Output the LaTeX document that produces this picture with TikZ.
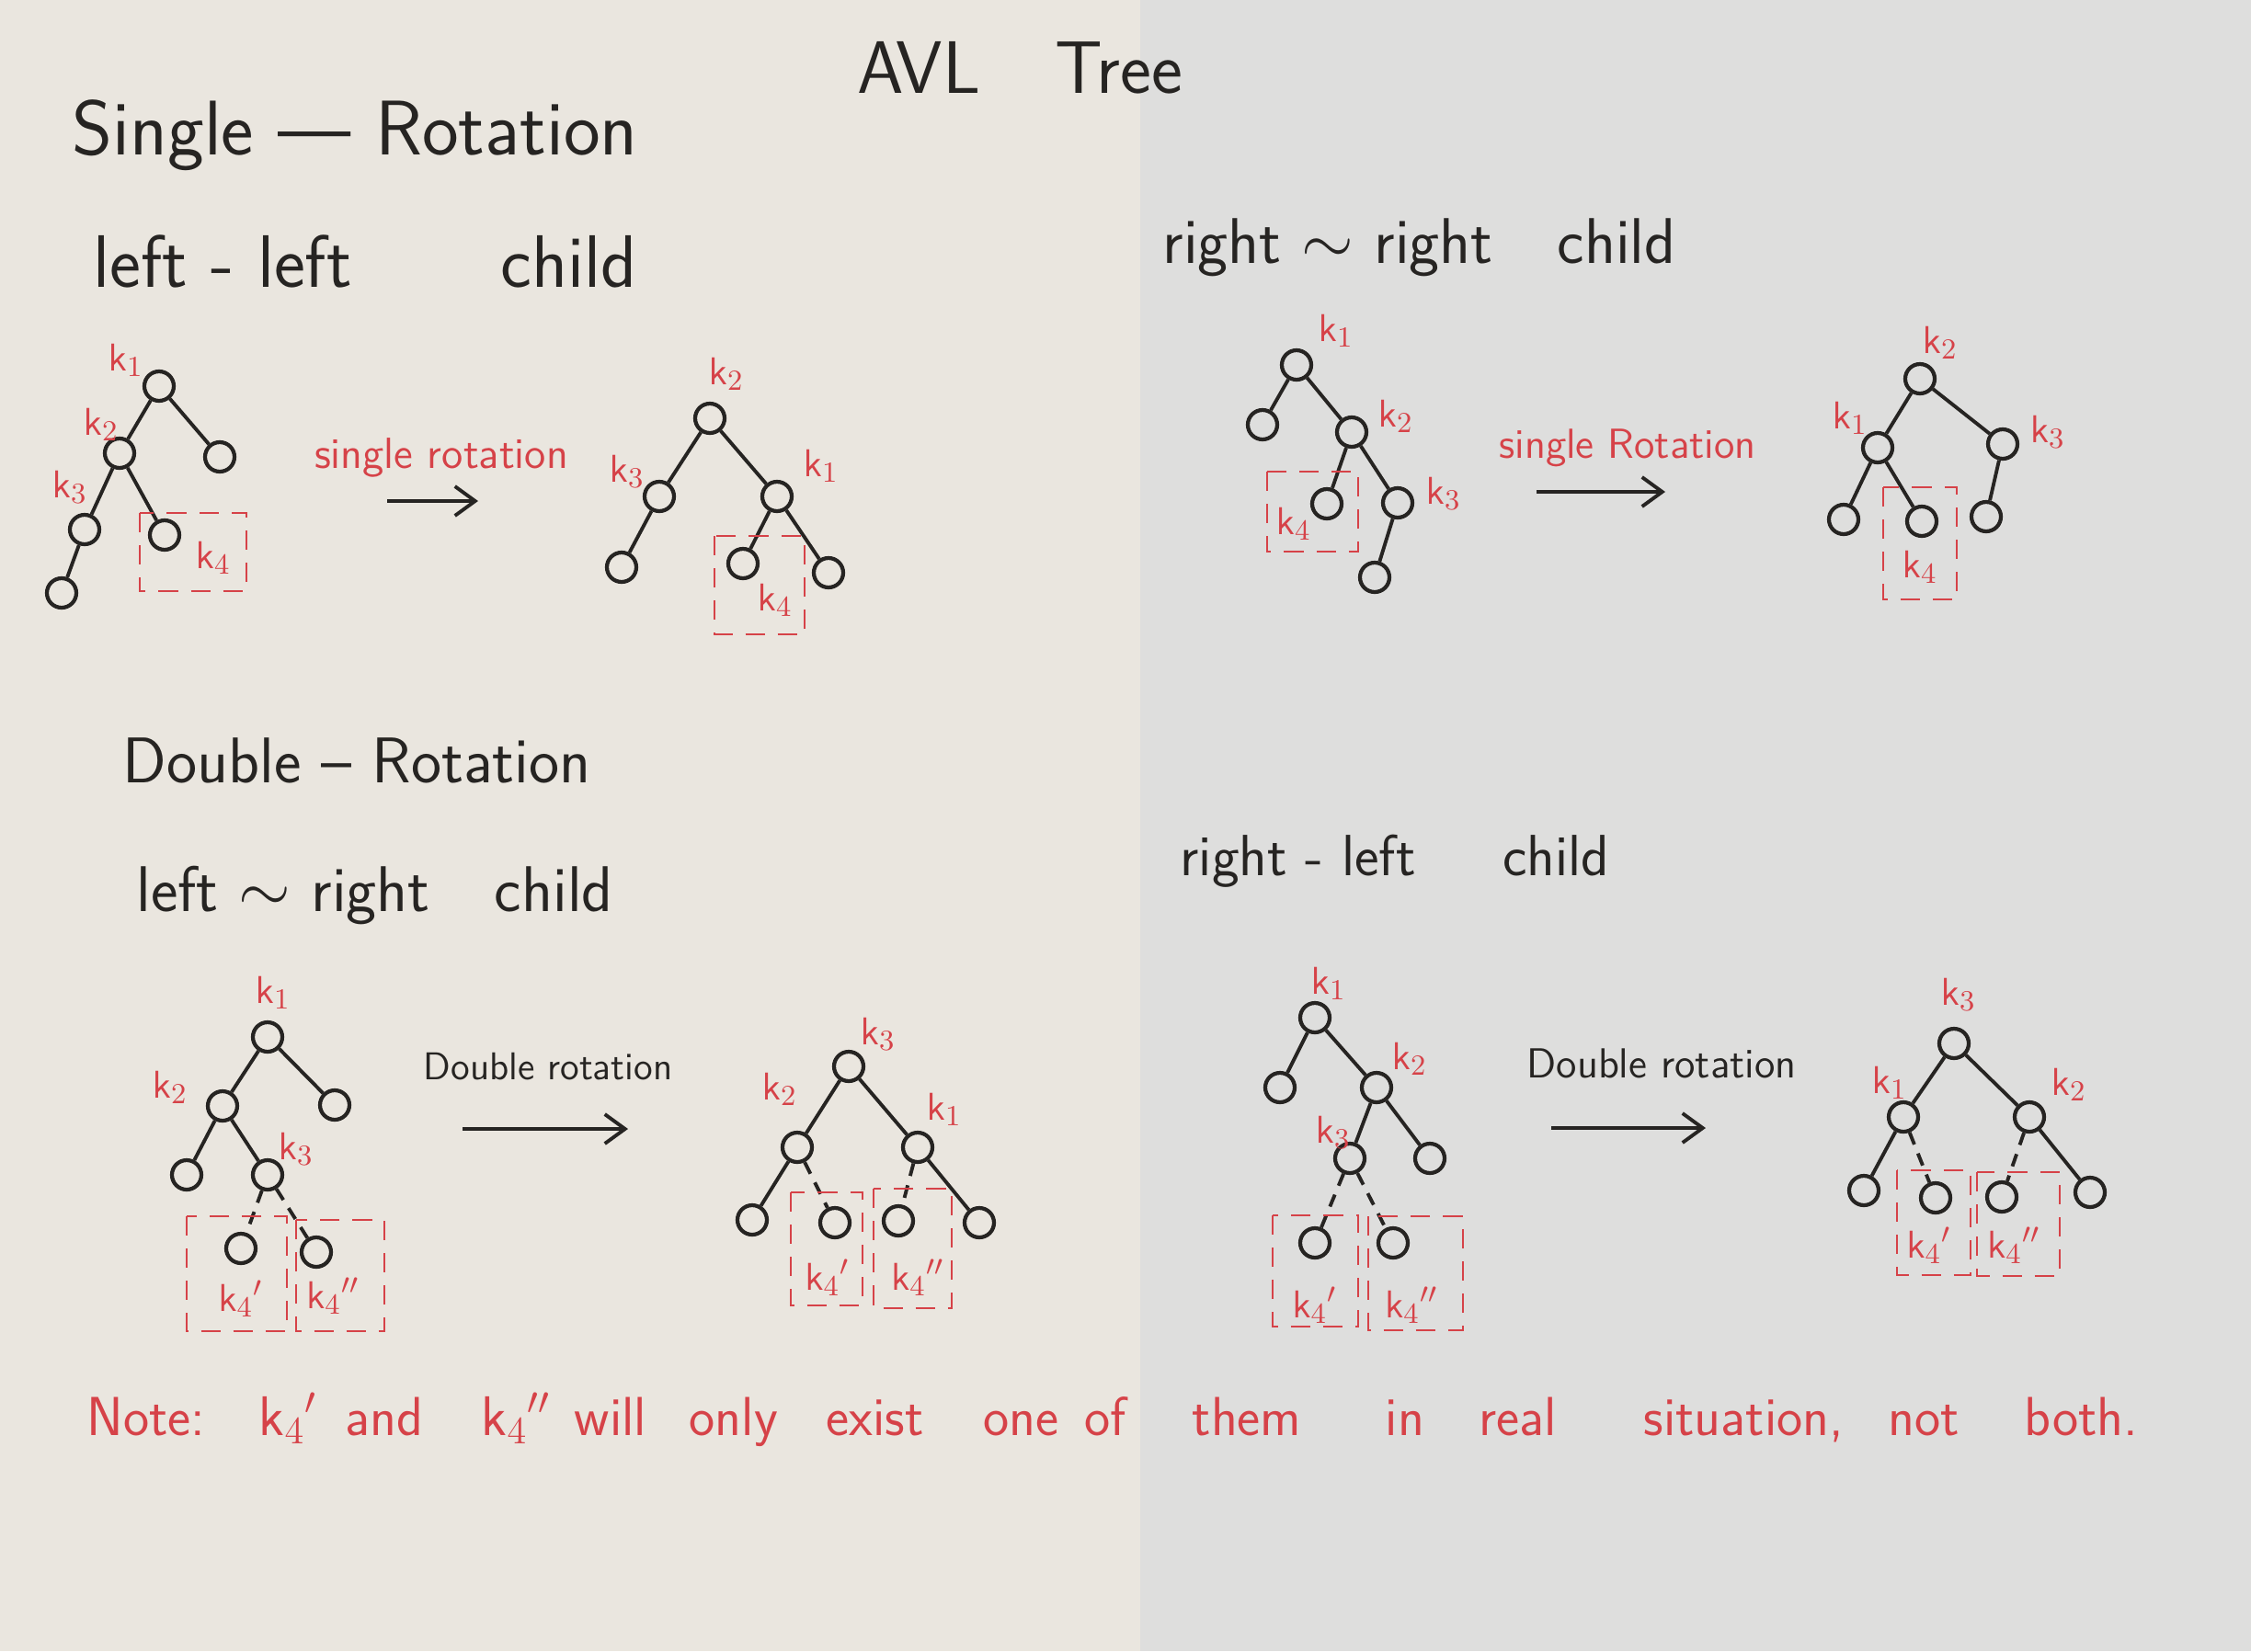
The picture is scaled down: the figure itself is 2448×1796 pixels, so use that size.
\documentclass[tikz,border=0pt]{standalone}
\usepackage{tikz}
\usetikzlibrary{arrows.meta}
\definecolor{penred}{RGB}{214,66,72}
\definecolor{pen}{RGB}{38,36,34}
\definecolor{paperL}{RGB}{234,230,223}
\definecolor{paperR}{RGB}{222,222,221}
\newcommand{\knum}[1]{$\mathsf{k}_{#1}$}

\begin{document}
\begin{tikzpicture}[x=0.1mm, y=-0.1mm,
  nd/.style={circle, draw=pen, line width=1.2pt, minimum size=3.2mm, inner sep=0pt},
  edge/.style={draw=pen, line width=1.1pt},
  dedge/.style={edge, dash pattern=on 4pt off 3pt},
  kbox/.style={draw=penred, line width=0.8pt, dash pattern=on 6pt off 4pt},
  klab/.style={text=penred, font=\sffamily\fontsize{13}{15}\selectfont, inner sep=0pt},
  title/.style={text=pen, anchor=base west, inner sep=0pt},
  rotlab/.style={inner sep=0pt},
  rotarrow/.style={draw=pen, line width=1.1pt, -{Straight Barb[length=2.2mm, width=3.2mm]}}]
% paper
\useasboundingbox (0,0) rectangle (2448,1796);
\fill[paperL] (0,0) rectangle (1240,1796);
\fill[paperR] (1240,0) rectangle (2448,1796);
% headings
\node[title, font=\sffamily\fontsize{23}{27}\selectfont] (avl) at (932,101) {AVL\quad Tree};
\node[title, font=\sffamily\fontsize{24}{28}\selectfont] (single) at (78,168) {Single --- Rotation};
\node[title, font=\sffamily\fontsize{23}{27}\selectfont] (llhead) at (101,312) {left - left\qquad child};
\node[title, font=\sffamily\fontsize{20}{24}\selectfont] (rrhead) at (1264,286) {right $\sim$ right\quad child};
\node[title, font=\sffamily\fontsize{20}{24}\selectfont] (double) at (133,851) {Double -- Rotation};
\node[title, font=\sffamily\fontsize{20}{24}\selectfont] (lrhead) at (148,991) {left $\sim$ right\quad child};
\node[title, font=\sffamily\fontsize{18}{22}\selectfont] (rlhead) at (1283,952) {right - left\quad\enspace child};

% left-left, before
\node[nd] (llA-k1) at (173,420) {};
\node[nd] (llA-k2) at (130,493) {};
\node[nd] (llA-x1) at (239,497) {};
\node[nd] (llA-k3) at (92,576) {};
\node[nd] (llA-x2) at (179,582) {};
\node[nd] (llA-x3) at (67,645) {};
\draw[edge] (llA-k1) -- (llA-k2);
\draw[edge] (llA-k1) -- (llA-x1);
\draw[edge] (llA-k2) -- (llA-k3);
\draw[edge] (llA-k2) -- (llA-x2);
\draw[edge] (llA-k3) -- (llA-x3);
\node[klab] (llA-t1) at (137,392) {\knum{1}};
\node[klab] (llA-t2) at (110,462) {\knum{2}};
\node[klab] (llA-t3) at (76,530) {\knum{3}};
\draw[kbox] (152,558) rectangle (268,643);
\node[klab] (llA-t4) at (232,607) {\knum{4}};
% left-left, rotation
\node[rotlab, text=penred, font=\sffamily\fontsize{13.5}{16}\selectfont] (llrot) at (480,498) {single rotation};
\coordinate (llArrS) at (421,545);
\coordinate (llArrE) at (520,545);
\draw[rotarrow] (llArrS) -- (llArrE);
% left-left, after
\node[nd] (llB-k2) at (772,455) {};
\node[nd] (llB-k3) at (717,540) {};
\node[nd] (llB-k1) at (845,540) {};
\node[nd] (llB-x1) at (676,617) {};
\node[nd] (llB-x2) at (808,613) {};
\node[nd] (llB-x3) at (901,623) {};
\draw[edge] (llB-k2) -- (llB-k3);
\draw[edge] (llB-k2) -- (llB-k1);
\draw[edge] (llB-k3) -- (llB-x1);
\draw[edge] (llB-k1) -- (llB-x2);
\draw[edge] (llB-k1) -- (llB-x3);
\node[klab] (llB-t2) at (790,407) {\knum{2}};
\node[klab] (llB-t3) at (682,513) {\knum{3}};
\node[klab] (llB-t1) at (893,507) {\knum{1}};
\draw[kbox] (777,583) rectangle (875,690);
\node[klab] (llB-t4) at (843,653) {\knum{4}};

% right-right, before
\node[nd] (rrA-k1) at (1410,397) {};
\node[nd] (rrA-x1) at (1373,462) {};
\node[nd] (rrA-k2) at (1470,470) {};
\node[nd] (rrA-x2) at (1443,548) {};
\node[nd] (rrA-k3) at (1520,547) {};
\node[nd] (rrA-x3) at (1495,628) {};
\draw[edge] (rrA-k1) -- (rrA-x1);
\draw[edge] (rrA-k1) -- (rrA-k2);
\draw[edge] (rrA-k2) -- (rrA-x2);
\draw[edge] (rrA-k2) -- (rrA-k3);
\draw[edge] (rrA-k3) -- (rrA-x3);
\node[klab] (rrA-t1) at (1453,360) {\knum{1}};
\node[klab] (rrA-t2) at (1518,453) {\knum{2}};
\node[klab] (rrA-t3) at (1570,537) {\knum{3}};
\draw[kbox] (1378,513) rectangle (1477,600);
\node[klab] (rrA-t4) at (1407,570) {\knum{4}};
% right-right, rotation
\node[rotlab, text=penred, font=\sffamily\fontsize{13}{16}\selectfont] (rrrot) at (1770,487) {single Rotation};
\coordinate (rrArrS) at (1671,535);
\coordinate (rrArrE) at (1811,535);
\draw[rotarrow] (rrArrS) -- (rrArrE);
% right-right, after
\node[nd] (rrB-k2) at (2088,412) {};
\node[nd] (rrB-k1) at (2042,487) {};
\node[nd] (rrB-k3) at (2178,483) {};
\node[nd] (rrB-x1) at (2005,565) {};
\node[nd] (rrB-x2) at (2090,567) {};
\node[nd] (rrB-x3) at (2160,562) {};
\draw[edge] (rrB-k2) -- (rrB-k1);
\draw[edge] (rrB-k2) -- (rrB-k3);
\draw[edge] (rrB-k1) -- (rrB-x1);
\draw[edge] (rrB-k1) -- (rrB-x2);
\draw[edge] (rrB-k3) -- (rrB-x3);
\node[klab] (rrB-t2) at (2110,373) {\knum{2}};
\node[klab] (rrB-t1) at (2012,455) {\knum{1}};
\node[klab] (rrB-t3) at (2227,470) {\knum{3}};
\draw[kbox] (2048,530) rectangle (2128,652);
\node[klab] (rrB-t4) at (2088,617) {\knum{4}};

% left-right, before
\node[nd] (lrA-k1) at (291,1128) {};
\node[nd] (lrA-k2) at (242,1203) {};
\node[nd] (lrA-x1) at (364,1202) {};
\node[nd] (lrA-x2) at (203,1278) {};
\node[nd] (lrA-k3) at (291,1278) {};
\node[nd] (lrA-x3) at (262,1358) {};
\node[nd] (lrA-x4) at (344,1362) {};
\draw[edge] (lrA-k1) -- (lrA-k2);
\draw[edge] (lrA-k1) -- (lrA-x1);
\draw[edge] (lrA-k2) -- (lrA-x2);
\draw[edge] (lrA-k2) -- (lrA-k3);
\draw[dedge] (lrA-k3) -- (lrA-x3);
\draw[dedge] (lrA-k3) -- (lrA-x4);
\node[klab] (lrA-t1) at (297,1080) {\knum{1}};
\node[klab] (lrA-t2) at (185,1183) {\knum{2}};
\node[klab] (lrA-t3) at (322,1250) {\knum{3}};
\draw[kbox] (203,1323) rectangle (312,1448);
\draw[kbox] (322,1327) rectangle (418,1448);
\node[klab] (lrA-t4) at (262,1413) {\knum{4}$'$};
\node[klab] (lrA-t5) at (362,1410) {\knum{4}$''$};
% left-right, rotation
\node[rotlab, text=pen, font=\sffamily\fontsize{12}{15}\selectfont] (lrrot) at (596,1160) {Double rotation};
\coordinate (lrArrS) at (503,1228);
\coordinate (lrArrE) at (683,1228);
\draw[rotarrow] (lrArrS) -- (lrArrE);
% left-right, after
\node[nd] (lrB-k3) at (923,1160) {};
\node[nd] (lrB-k2) at (867,1248) {};
\node[nd] (lrB-k1) at (998,1248) {};
\node[nd] (lrB-x1) at (818,1327) {};
\node[nd] (lrB-x2) at (908,1330) {};
\node[nd] (lrB-x3) at (977,1328) {};
\node[nd] (lrB-x4) at (1065,1330) {};
\draw[edge] (lrB-k3) -- (lrB-k2);
\draw[edge] (lrB-k3) -- (lrB-k1);
\draw[edge] (lrB-k2) -- (lrB-x1);
\draw[dedge] (lrB-k2) -- (lrB-x2);
\draw[dedge] (lrB-k1) -- (lrB-x3);
\draw[edge] (lrB-k1) -- (lrB-x4);
\node[klab] (lrB-t3) at (955,1125) {\knum{3}};
\node[klab] (lrB-t2) at (848,1185) {\knum{2}};
\node[klab] (lrB-t1) at (1027,1207) {\knum{1}};
\draw[kbox] (860,1297) rectangle (938,1420);
\draw[kbox] (950,1293) rectangle (1035,1423);
\node[klab] (lrB-t4) at (900,1390) {\knum{4}$'$};
\node[klab] (lrB-t5) at (998,1390) {\knum{4}$''$};

% right-left, before
\node[nd] (rlA-k1) at (1430,1107) {};
\node[nd] (rlA-x1) at (1392,1183) {};
\node[nd] (rlA-k2) at (1497,1183) {};
\node[nd] (rlA-k3) at (1468,1260) {};
\node[nd] (rlA-x2) at (1555,1260) {};
\node[nd] (rlA-x3) at (1430,1352) {};
\node[nd] (rlA-x4) at (1515,1352) {};
\draw[edge] (rlA-k1) -- (rlA-x1);
\draw[edge] (rlA-k1) -- (rlA-k2);
\draw[edge] (rlA-k2) -- (rlA-k3);
\draw[edge] (rlA-k2) -- (rlA-x2);
\draw[dedge] (rlA-k3) -- (rlA-x3);
\draw[dedge] (rlA-k3) -- (rlA-x4);
\node[klab] (rlA-t1) at (1445,1070) {\knum{1}};
\node[klab] (rlA-t2) at (1533,1152) {\knum{2}};
\node[klab] (rlA-t3) at (1450,1232) {\knum{3}};
\draw[kbox] (1384,1322) rectangle (1477,1443);
\draw[kbox] (1488,1323) rectangle (1591,1447);
\node[klab] (rlA-t4) at (1430,1420) {\knum{4}$'$};
\node[klab] (rlA-t5) at (1535,1420) {\knum{4}$''$};
% right-left, rotation
\node[rotlab, text=pen, font=\sffamily\fontsize{13}{16}\selectfont] (rlrot) at (1807,1157) {Double rotation};
\coordinate (rlArrS) at (1687,1227);
\coordinate (rlArrE) at (1855,1227);
\draw[rotarrow] (rlArrS) -- (rlArrE);
% right-left, after
\node[nd] (rlB-k3) at (2125,1135) {};
\node[nd] (rlB-k1) at (2070,1215) {};
\node[nd] (rlB-k2) at (2207,1215) {};
\node[nd] (rlB-x1) at (2027,1295) {};
\node[nd] (rlB-x2) at (2105,1303) {};
\node[nd] (rlB-x3) at (2177,1302) {};
\node[nd] (rlB-x4) at (2273,1297) {};
\draw[edge] (rlB-k3) -- (rlB-k1);
\draw[edge] (rlB-k3) -- (rlB-k2);
\draw[edge] (rlB-k1) -- (rlB-x1);
\draw[dedge] (rlB-k1) -- (rlB-x2);
\draw[dedge] (rlB-k2) -- (rlB-x3);
\draw[edge] (rlB-k2) -- (rlB-x4);
\node[klab] (rlB-t3) at (2130,1082) {\knum{3}};
\node[klab] (rlB-t1) at (2055,1178) {\knum{1}};
\node[klab] (rlB-t2) at (2250,1180) {\knum{2}};
\draw[kbox] (2063,1273) rectangle (2143,1387);
\draw[kbox] (2150,1275) rectangle (2240,1388);
\node[klab] (rlB-t4) at (2098,1355) {\knum{4}$'$};
\node[klab] (rlB-t5) at (2190,1355) {\knum{4}$''$};

% note
\foreach \x/\w [count=\i] in {94/Note:, 281/\knum{4}$'$, 375/and, 523/\knum{4}$''$, 624/will,
    749/only, 898/exist, 1069/one, 1179/of, 1296/them, 1506/in, 1608/real,
    1787/{situation,}, 2053/not, 2201/both.}
  \node[anchor=base west, inner sep=0pt, text=penred, font=\sffamily\fontsize{17}{20}\selectfont] (note-\i) at (\x,1561) {\w};
\end{tikzpicture}
\end{document}
